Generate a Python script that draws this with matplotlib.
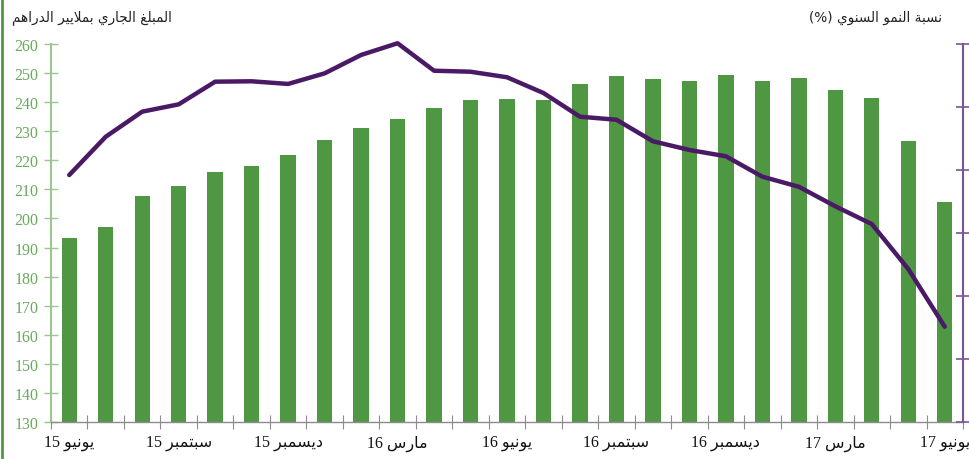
import matplotlib
matplotlib.use("Agg")
import matplotlib.pyplot as plt
from matplotlib.lines import Line2D

# ---- data ----
label_years = ["15", "15", "15", "16", "16", "16", "16", "17", "17"]
label_months = ["يونيو", "سبتمبر", "ديسمبر", "مارس", "يونيو", "سبتمبر", "ديسمبر", "مارس", "يونيو"]
amount = [193.3, 197.1, 207.7, 211.2, 216.0, 218.0, 221.8, 227.0, 231.1, 234.2,
          238.0, 240.7, 241.0, 240.7, 246.2, 249.0, 248.0, 247.3, 249.3, 247.3,
          248.3, 244.2, 241.4, 226.6, 205.7]
growth = [19.60, 22.64, 24.63, 25.21, 27.01, 27.04, 26.83, 27.67, 29.13, 30.06,
          27.88, 27.80, 27.36, 26.11, 24.23, 23.99, 22.28, 21.59, 21.09, 19.47,
          18.67, 17.12, 15.71, 12.14, 7.56]
left_ticks = list(range(130, 261, 10))
right_ticks = [0, 5, 10, 15, 20, 25, 30]
title_left = "المبلغ الجاري بملايير الدراهم"
title_right = "نسبة النمو السنوي"

# ---- minimal Arabic shaping (matplotlib has no complex text layout) ----
FORMS = {
    'ا': ('\uFE8D', '\uFE8E', None, None),
    'ب': ('\uFE8F', '\uFE90', '\uFE91', '\uFE92'),
    'ة': ('\uFE93', '\uFE94', None, None),
    'ت': ('\uFE95', '\uFE96', '\uFE97', '\uFE98'),
    'ج': ('\uFE9D', '\uFE9E', '\uFE9F', '\uFEA0'),
    'د': ('\uFEA9', '\uFEAA', None, None),
    'ر': ('\uFEAD', '\uFEAE', None, None),
    'س': ('\uFEB1', '\uFEB2', '\uFEB3', '\uFEB4'),
    'غ': ('\uFECD', '\uFECE', '\uFECF', '\uFED0'),
    'ل': ('\uFEDD', '\uFEDE', '\uFEDF', '\uFEE0'),
    'م': ('\uFEE1', '\uFEE2', '\uFEE3', '\uFEE4'),
    'ن': ('\uFEE5', '\uFEE6', '\uFEE7', '\uFEE8'),
    'ه': ('\uFEE9', '\uFEEA', '\uFEEB', '\uFEEC'),
    'و': ('\uFEED', '\uFEEE', None, None),
    'ي': ('\uFEF1', '\uFEF2', '\uFEF3', '\uFEF4'),
    'ﻻ': ('\uFEFB', '\uFEFC', None, None),
}


def dual(c):
    return c in FORMS and FORMS[c][2] is not None


def shape(text):
    text = text.replace('لا', 'ﻻ')
    out = []
    for i, c in enumerate(text):
        if c not in FORMS:
            out.append(c)
            continue
        prev = text[i - 1] if i > 0 else ''
        nxt = text[i + 1] if i + 1 < len(text) else ''
        jp = dual(prev)
        jn = dual(c) and nxt in FORMS
        iso, fin, ini, med = FORMS[c]
        if jp and jn:
            out.append(med)
        elif jn:
            out.append(ini)
        elif jp:
            out.append(fin)
        else:
            out.append(iso)
    return ''.join(out)[::-1]


# ---- figure ----
GREEN = '#509743'
PURPLE = '#4a1a66'
fig = plt.figure(figsize=(9.69, 4.6), dpi=100)
ax = fig.add_axes([51 / 969, 1 - 423 / 460, (963 - 51) / 969, (423 - 45) / 460])
n = len(amount)
x = list(range(n))
ax.bar(x, [a - 130 for a in amount], bottom=130, width=0.42, color=GREEN, zorder=2)
ax.set_xlim(-0.5, n - 0.5)
ax.set_ylim(130, 260)
ax.set_yticks(left_ticks)
ax.set_yticklabels([str(t) for t in left_ticks], fontsize=11.5, color='#6aa85c')
for t in ax.get_yticklabels():
    t.set_fontfamily(['Liberation Serif'])
ax.tick_params(axis='y', direction='inout', length=10, width=1, color='#9cc690', pad=4)

for s in ['top', 'right']:
    ax.spines[s].set_visible(False)
ax.spines['left'].set_color('#9cc690')
ax.spines['left'].set_linewidth(1.5)
ax.spines['bottom'].set_color('#8c8c8c')
ax.spines['bottom'].set_linewidth(1)

# x ticks at bar boundaries, labels at every third bar
ax.set_xticks([i - 0.5 for i in range(n + 1)])
ax.set_xticklabels([])
ax.tick_params(axis='x', which='major', direction='inout', length=10, color='#8c8c8c')
lab_pos = list(range(0, n, 3))
ax.set_xticks(lab_pos, minor=True)
ax.set_xticklabels([y + ' ' + shape(m) for y, m in zip(label_years, label_months)],
                   minor=True, fontsize=11.5, color='#111111')
for t in ax.get_xticklabels(minor=True):
    t.set_fontfamily(['Liberation Serif', 'DejaVu Sans'])
ax.tick_params(axis='x', which='minor', length=0, pad=9)

# right axis line
ax2 = ax.twinx()
ax2.plot(x, growth, color=PURPLE, lw=3.2, solid_capstyle='round', zorder=3, clip_on=False)
ax2.set_ylim(0, 30)
ax2.set_yticks(right_ticks)
ax2.set_yticklabels([])
ax2.tick_params(axis='y', direction='inout', length=10, width=1.2, color='#7a5596')
for s in ['top', 'left', 'bottom']:
    ax2.spines[s].set_visible(False)
ax2.spines['right'].set_color('#7a5596')
ax2.spines['right'].set_linewidth(1.5)

# titles
fig.text(12 / 969, 1 - 18 / 460, shape(title_left), family='DejaVu Sans',
         fontsize=9.8, ha='left', va='center', color='#222222')
fig.text(942 / 969, 1 - 18 / 460, '(%) ' + shape(title_right),
         family=['DejaVu Sans'], fontsize=9.8, ha='right', va='center', color='#222222')

# left border line
fig.add_artist(Line2D([2 / 969, 2 / 969], [0, 1], transform=fig.transFigure,
                      color=GREEN, lw=2))

fig.savefig('out.png', dpi=100)
